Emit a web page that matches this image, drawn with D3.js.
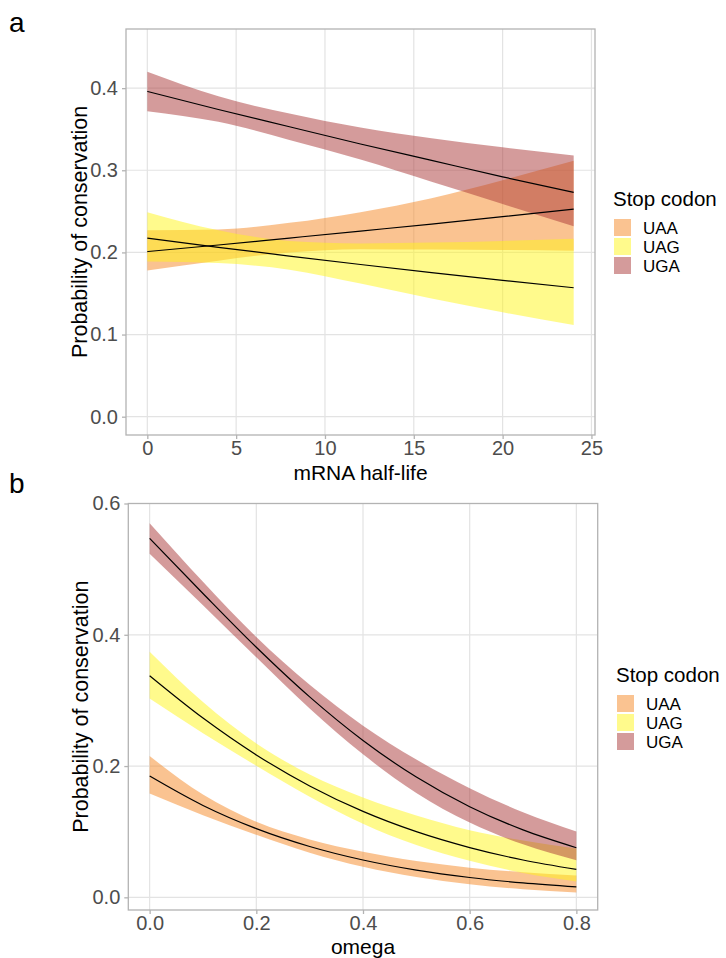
<!DOCTYPE html>
<html>
<head>
<meta charset="utf-8">
<script src="https://cdn.jsdelivr.net/npm/d3@7"></script>
<style>
  html, body { margin: 0; padding: 0; background: #ffffff; }
  svg { display: block; }
  text { font-family: "Liberation Sans", Arial, Helvetica, sans-serif; }
</style>
</head>
<body>
<div id="chart"></div>
<script>
// ---------------- data ----------------
const codons = ["UAA", "UAG", "UGA"];
const legendTitle = "Stop codon";
const yTitle = "Probability of conservation";

// panel a : mRNA half-life
const halfLife = [0, 4, 8, 12, 16, 20, 24];
const aFitUAA = [0.201, 0.209, 0.2175, 0.226, 0.2345, 0.2436, 0.2526];
const aLowUAA = [0.178, 0.190, 0.200, 0.204, 0.2035, 0.203, 0.202];
const aUpUAA  = [0.227, 0.228, 0.236, 0.249, 0.266, 0.288, 0.3115];
const aFitUAG = [0.2173, 0.2062, 0.1955, 0.1853, 0.1755, 0.1660, 0.1570];
const aLowUAG = [0.189, 0.187, 0.179, 0.162, 0.144, 0.127, 0.1117];
const aUpUAG  = [0.249, 0.227, 0.214, 0.211, 0.212, 0.214, 0.2165];
const aFitUGA = [0.396, 0.374, 0.353, 0.332, 0.312, 0.292, 0.273];
const aLowUGA = [0.372, 0.359, 0.337, 0.313, 0.286, 0.259, 0.232];
const aUpUGA  = [0.420, 0.390, 0.369, 0.352, 0.339, 0.328, 0.318];
const aXTicks = [0, 5, 10, 15, 20, 25];
const aYTicks = [0.0, 0.1, 0.2, 0.3, 0.4];

// panel b : omega
const omega = [0, 0.1, 0.2, 0.3, 0.4, 0.5, 0.6, 0.7, 0.8];
const bFitUAA = [0.1848, 0.1400, 0.1047, 0.0775, 0.0569, 0.0415, 0.0302, 0.0219, 0.0158];
const bLowUAA = [0.1580, 0.1251, 0.0953, 0.0681, 0.0466, 0.0311, 0.0200, 0.0124, 0.0075];
const bUpUAA  = [0.2152, 0.1565, 0.1150, 0.0881, 0.0693, 0.0553, 0.0452, 0.0384, 0.0332];
const bFitUAG = [0.3376, 0.2731, 0.2170, 0.1697, 0.1309, 0.1000, 0.0758, 0.0569, 0.0426];
const bLowUAG = [0.3028, 0.2500, 0.2004, 0.1534, 0.1122, 0.0796, 0.0556, 0.0371, 0.0241];
const bUpUAG  = [0.3743, 0.2976, 0.2345, 0.1872, 0.1521, 0.1248, 0.1023, 0.0865, 0.0744];
const bFitUGA = [0.5469, 0.4629, 0.3810, 0.3054, 0.2390, 0.1832, 0.1381, 0.1027, 0.0756];
const bLowUGA = [0.5235, 0.4451, 0.3656, 0.2876, 0.2178, 0.1591, 0.1139, 0.0807, 0.0565];
const bUpUGA  = [0.5700, 0.4809, 0.3967, 0.3237, 0.2615, 0.2100, 0.1663, 0.1297, 0.1002];
const bXTicks = [0.0, 0.2, 0.4, 0.6, 0.8];
const bYTicks = [0.0, 0.2, 0.4, 0.6];

// ---------------- styles ----------------
const fillColors = { UAA: "#F58723", UAG: "#FFF519", UGA: "#A93737" };
const fillAlpha = 0.5;
const gridColor = "#E3E3E3";
const borderColor = "#B3B3B3";
const tickTextColor = "#4D4D4D";

const W = 726, H = 958;
const svg = d3.select("#chart").append("svg").attr("width", W).attr("height", H);

function panel(opt) {
  const g = svg.append("g");
  const x = d3.scaleLinear().domain(opt.xDomain).range([opt.left, opt.right]);
  const y = d3.scaleLinear().domain(opt.yDomain).range([opt.bottom, opt.top]);

  // grid
  g.append("g").selectAll("line").data(opt.xTicks).join("line")
    .attr("x1", d => x(d)).attr("x2", d => x(d))
    .attr("y1", opt.top).attr("y2", opt.bottom)
    .attr("stroke", gridColor).attr("stroke-width", 1.2);
  g.append("g").selectAll("line").data(opt.yTicks).join("line")
    .attr("x1", opt.left).attr("x2", opt.right)
    .attr("y1", d => y(d)).attr("y2", d => y(d))
    .attr("stroke", gridColor).attr("stroke-width", 1.2);

  // ribbons
  const series = codons.map((c, i) => ({
    codon: c,
    pts: opt.xs.map((xv, j) => ({ x: xv, fit: opt.fit[i][j], lo: opt.lo[i][j], hi: opt.hi[i][j] }))
  }));
  const area = d3.area().x(d => x(d.x)).y0(d => y(d.lo)).y1(d => y(d.hi)).curve(d3.curveMonotoneX);
  const line = d3.line().x(d => x(d.x)).y(d => y(d.fit)).curve(d3.curveMonotoneX);
  g.append("g").selectAll("path").data(series).join("path")
    .attr("d", d => area(d.pts))
    .attr("fill", d => fillColors[d.codon]).attr("fill-opacity", fillAlpha);
  g.append("g").selectAll("path").data(series).join("path")
    .attr("d", d => line(d.pts))
    .attr("fill", "none").attr("stroke", "#000").attr("stroke-width", 1.2);

  // border
  g.append("rect").attr("x", opt.left).attr("y", opt.top)
    .attr("width", opt.right - opt.left).attr("height", opt.bottom - opt.top)
    .attr("fill", "none").attr("stroke", borderColor).attr("stroke-width", 1.3);

  // axes
  const xAxis = d3.axisBottom(x).tickValues(opt.xTicks).tickFormat(opt.xFmt).tickSizeOuter(0).tickSize(4).tickPadding(2);
  const gx = g.append("g").attr("transform", `translate(0,${opt.bottom})`).call(xAxis);
  gx.select(".domain").remove();
  gx.selectAll(".tick line").attr("stroke", borderColor).attr("stroke-width", 1.3);
  gx.selectAll(".tick text").attr("fill", tickTextColor).attr("font-size", 20)
    .attr("font-family", "Liberation Sans, Arial, sans-serif");

  const yAxis = d3.axisLeft(y).tickValues(opt.yTicks).tickFormat(d3.format(".1f")).tickSizeOuter(0).tickSize(4).tickPadding(4);
  const gy = g.append("g").attr("transform", `translate(${opt.left},0)`).call(yAxis);
  gy.select(".domain").remove();
  gy.selectAll(".tick line").attr("stroke", borderColor).attr("stroke-width", 1.3);
  gy.selectAll(".tick text").attr("fill", tickTextColor).attr("font-size", 20)
    .attr("font-family", "Liberation Sans, Arial, sans-serif");

  // titles
  g.append("text").attr("x", (opt.left + opt.right) / 2).attr("y", opt.xTitleY)
    .attr("text-anchor", "middle").attr("font-size", 21).attr("fill", "#000").text(opt.xTitle);
  g.append("text").attr("transform", `translate(${opt.yTitleX},${(opt.top + opt.bottom) / 2}) rotate(-90)`)
    .attr("text-anchor", "middle").attr("font-size", 21.5).attr("fill", "#000").text(yTitle);

  // panel letter
  g.append("text").attr("x", opt.letterX).attr("y", opt.letterY)
    .attr("font-family", "Open Sans, Noto Sans, sans-serif").attr("font-size", 28).attr("fill", "#000").text(opt.letter);

  // legend
  const lg = g.append("g");
  lg.append("text").attr("x", opt.legX).attr("y", opt.legTitleY).attr("font-size", 20.5).attr("fill", "#000").text(legendTitle);
  codons.forEach((c, i) => {
    const ky = opt.legKeyY + i * 19;
    lg.append("rect").attr("x", opt.legX + 1).attr("y", ky).attr("width", 17).attr("height", 17)
      .attr("fill", fillColors[c]).attr("fill-opacity", fillAlpha);
    lg.append("text").attr("x", opt.legX + 30).attr("y", ky + 15).attr("font-size", 17).attr("fill", "#000").text(c);
  });
}

panel({
  letter: "a", letterX: 9, letterY: 32,
  left: 126, right: 595, top: 29, bottom: 435,
  xDomain: [-1.2, 25.2], yDomain: [-0.0223, 0.472],
  xs: halfLife,
  fit: [aFitUAA, aFitUAG, aFitUGA], lo: [aLowUAA, aLowUAG, aLowUGA], hi: [aUpUAA, aUpUAG, aUpUGA],
  xTicks: aXTicks, yTicks: aYTicks, xFmt: d3.format("d"),
  xTitle: "mRNA half-life", xTitleY: 480, yTitleX: 87,
  legX: 613, legTitleY: 206, legKeyY: 219
});

panel({
  letter: "b", letterX: 9, letterY: 493,
  left: 128.3, right: 597.7, top: 503.5, bottom: 910,
  xDomain: [-0.04, 0.84], yDomain: [-0.0193, 0.6],
  xs: omega,
  fit: [bFitUAA, bFitUAG, bFitUGA], lo: [bLowUAA, bLowUAG, bLowUGA], hi: [bUpUAA, bUpUAG, bUpUGA],
  xTicks: bXTicks, yTicks: bYTicks, xFmt: d3.format(".1f"),
  xTitle: "omega", xTitleY: 954, yTitleX: 88,
  legX: 616, legTitleY: 682, legKeyY: 695
});
</script>
</body>
</html>
